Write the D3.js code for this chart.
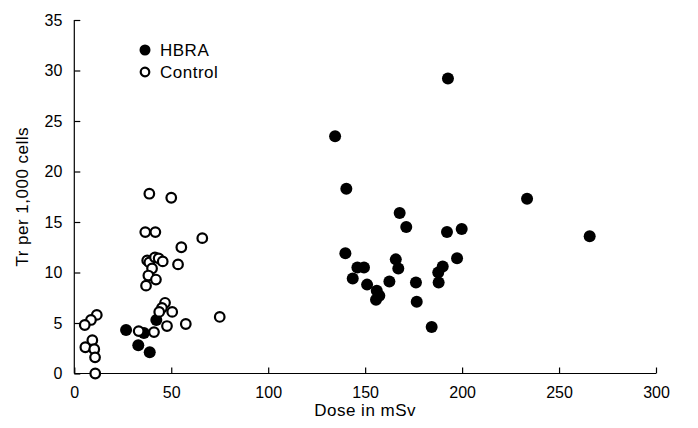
<!DOCTYPE html>
<html>
<head>
<meta charset="utf-8">
<script src="https://cdn.jsdelivr.net/npm/d3@7"></script>
<style>
  body { margin: 0; background: #fff; }
  svg { display: block; font-family: "Liberation Sans", Arial, sans-serif; }
  .axis path, .axis line { stroke: #000; stroke-width: 1.2; }
  .axis text { font-size: 16px; fill: #000; }
  .label { font-size: 17px; letter-spacing: 0.5px; fill: #000; }
</style>
</head>
<body>
<div id="chart"></div>
<script>
// HBRA (filled) - dose in mSv and Tr per 1,000 cells
var hbraDose = [134.5, 140.3, 233.5, 167.8, 171.2, 192.2, 199.8, 139.8, 197.4, 165.8,
                167.1, 146.0, 149.4, 143.6, 151.0, 162.5, 156.0, 157.3, 155.6, 176.2,
                176.6, 184.3, 190.0, 187.7, 187.9, 192.7, 265.8,
                26.7, 35.9, 42.3, 33.0, 38.9];
var hbraTr   = [23.5, 18.3, 17.3, 15.9, 14.5, 14.0, 14.3, 11.9, 11.4, 11.3,
                10.4, 10.5, 10.5, 9.4, 8.8, 9.1, 8.2, 7.7, 7.3, 9.0,
                7.1, 4.6, 10.6, 10.0, 9.0, 29.2, 13.6,
                4.3, 4.0, 5.3, 2.8, 2.1];

// Control (open)
var ctrlDose = [38.7, 50.0, 36.6, 41.8, 66.0, 55.2, 53.5, 37.6, 38.7, 41.6,
                43.5, 45.6, 40.1, 38.2, 42.1, 37.0, 46.8, 45.2, 43.8, 50.5,
                75.0, 57.5, 47.8, 41.1, 33.2, 11.6, 8.6, 5.4, 9.3, 5.7,
                10.3, 10.7, 10.8];
var ctrlTr   = [17.8, 17.4, 14.0, 14.0, 13.4, 12.5, 10.8, 11.2, 11.0, 11.5,
                11.4, 11.1, 10.4, 9.7, 9.3, 8.7, 7.0, 6.5, 6.1, 6.1,
                5.6, 4.9, 4.7, 4.1, 4.2, 5.8, 5.3, 4.8, 3.3, 2.6,
                2.4, 1.6, 0.0];

var xTicks = [0, 50, 100, 150, 200, 250, 300];
var yTicks = [0, 5, 10, 15, 20, 25, 30, 35];
var legendLabels = ["HBRA", "Control"];

var W = 698, H = 428;
var margin = {top: 20, right: 42, bottom: 54.5, left: 74.3};

var svg = d3.select("#chart").append("svg")
  .attr("width", W)
  .attr("height", H);

var x = d3.scaleLinear().domain([0, 300]).range([margin.left, W - margin.right]);
var y = d3.scaleLinear().domain([0, 35]).range([H - margin.bottom, margin.top]);

// axes, ticks pointing inward
svg.append("g")
  .attr("class", "axis")
  .attr("transform", "translate(0," + y(0) + ")")
  .call(d3.axisBottom(x).tickValues(xTicks).tickSizeInner(-6).tickSizeOuter(0).tickPadding(13))
  .select(".domain").attr("d", "M" + x(0) + ",0H" + x(300));

svg.append("g")
  .attr("class", "axis")
  .attr("transform", "translate(" + x(0) + ",0)")
  .call(d3.axisLeft(y).tickValues(yTicks).tickSizeInner(-6).tickSizeOuter(0).tickPadding(12))
  .select(".domain").attr("d", "M0," + y(0) + "V" + y(35));

// axis titles
svg.append("text")
  .attr("class", "label")
  .attr("x", (x(0) + x(300)) / 2)
  .attr("y", 416)
  .attr("text-anchor", "middle")
  .text("Dose in mSv");

svg.append("text")
  .attr("class", "label")
  .attr("transform", "translate(28," + (y(0) + y(35)) / 2 + ")rotate(-90)")
  .attr("text-anchor", "middle")
  .text("Tr per 1,000 cells");

// points
var hbra = hbraDose.map(function(d, i) { return {dose: d, tr: hbraTr[i]}; });
var ctrl = ctrlDose.map(function(d, i) { return {dose: d, tr: ctrlTr[i]}; });

svg.selectAll(".hbra")
  .data(hbra)
  .enter().append("circle")
  .attr("class", "hbra")
  .attr("cx", function(d) { return x(d.dose); })
  .attr("cy", function(d) { return y(d.tr); })
  .attr("r", 6)
  .style("fill", "#000");

svg.selectAll(".ctrl")
  .data(ctrl)
  .enter().append("circle")
  .attr("class", "ctrl")
  .attr("cx", function(d) { return x(d.dose); })
  .attr("cy", function(d) { return y(d.tr); })
  .attr("r", 4.8)
  .style("fill", "#fff")
  .style("stroke", "#000")
  .style("stroke-width", 2.2);

// legend
var legend = svg.append("g").attr("transform", "translate(145,50)");
legend.append("circle").attr("cx", 0).attr("cy", 0).attr("r", 5.5).style("fill", "#000");
legend.append("circle").attr("cx", 0).attr("cy", 22).attr("r", 4.3)
  .style("fill", "#fff").style("stroke", "#000").style("stroke-width", 2.2);
legend.selectAll(".lt")
  .data(legendLabels)
  .enter().append("text")
  .attr("class", "label")
  .attr("x", 15)
  .attr("y", function(d, i) { return i * 22; })
  .attr("dy", "0.36em")
  .text(function(d) { return d; });
</script>
</body>
</html>
